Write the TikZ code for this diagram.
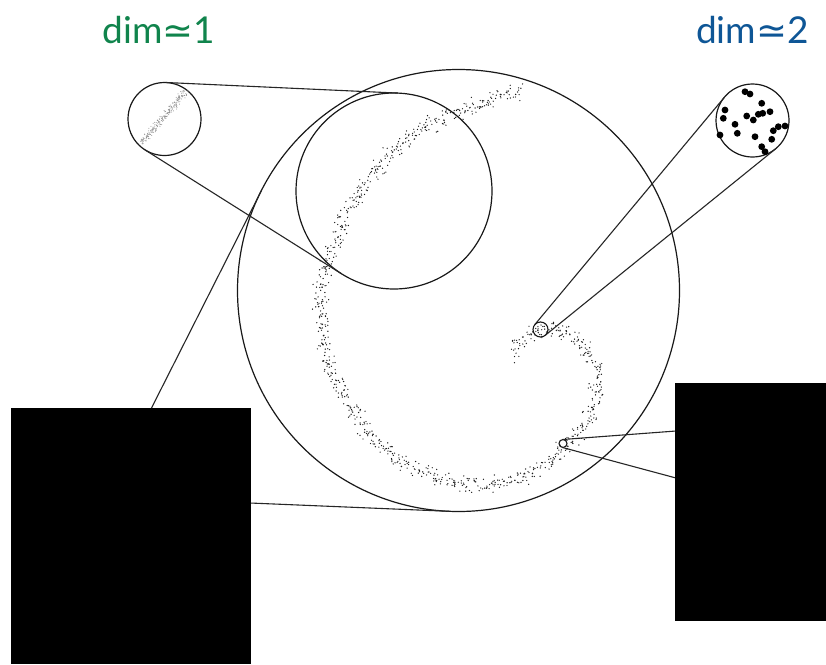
\documentclass[tikz,border=0pt]{standalone}
\usepackage{fontspec}
\setmainfont{Lato}
\newfontfamily\symfont{DejaVu Sans}
\definecolor{dimgreen}{RGB}{16,132,76}
\definecolor{dimblue}{RGB}{14,86,150}
\begin{document}
\begin{tikzpicture}[x=1pt,y=-1pt,
  ring/.style={circle,draw=black!90,line width=1.2pt,inner sep=0pt,outer sep=0pt},
  link/.style={draw=black!85,line width=1.1pt},
  hidden/.style={fill=black,draw=none},
  dimlabel/.style={anchor=base,inner sep=0pt,font=\fontsize{37}{44}\selectfont},
  bigdot/.style={fill=black},
  smalldot/.style={fill=black!90},
  faintdot/.style={fill=black!45}]
\fill[white] (0,0) rectangle (826,664);
\useasboundingbox (0,0) rectangle (826,664);

% circles
\node[ring,minimum size=73pt] (A) at (164.5,119) {};
\node[ring,minimum size=196pt] (M) at (394,191) {};
\node[ring,minimum size=442pt] (B) at (458.5,290.5) {};
\node[ring,minimum size=73pt] (C) at (752.5,120.5) {};
\node[ring,minimum size=15pt,line width=1.1pt] (T) at (540.5,329.5) {};
\node[ring,minimum size=8pt,line width=1.1pt] (S) at (563,443.5) {};

% tangent points
\coordinate (a1) at (166.2,82.5);  \coordinate (m1) at (398.4,93.1);
\coordinate (a2) at (145.0,149.9); \coordinate (m2) at (341.7,273.9);
\coordinate (c1) at (775.5,148.9); \coordinate (t1) at (545.2,335.3);
\coordinate (c2) at (724.5,97.1);  \coordinate (t2) at (534.7,324.7);
\coordinate (s1) at (562.6,439.5); \coordinate (r1) at (676,431);
\coordinate (s2) at (561.8,447.3); \coordinate (r2) at (676,478);
\coordinate (l1) at (151,409);     \coordinate (b1) at (261.4,190.6);
\coordinate (l2) at (250,503);     \coordinate (b2) at (449.2,511.3);

\draw[link] (a1) -- (m1);
\draw[link] (a2) -- (m2);
\draw[link] (c1) -- (t1);
\draw[link] (c2) -- (t2);
\draw[link] (s1) -- (r1);
\draw[link] (s2) -- (r2);
\draw[link] (l1) -- (b1);
\draw[link] (l2) -- (b2);

% point cloud along spiral
\pgfmathsetseed{7}
\foreach \xa/\ya/\xb/\yb in {513/355/522/338, 522/338/540/329, 540/329/567/332, 567/332/585/348, 585/348/597/373, 597/373/597/400, 597/400/587/423, 587/423/565/447, 565/447/540/468, 540/468/517/480, 517/480/483/486, 483/486/450/481, 450/481/425/473, 425/473/400/462, 400/462/373/440, 373/440/350/405, 350/405/333/377, 333/377/323/340, 323/340/320/300, 320/300/323/275, 323/275/332/245, 332/245/347/213, 347/213/367/182, 367/182/392/153, 392/153/423/128, 423/128/457/112, 457/112/490/100, 490/100/520/90}{
  \pgfmathsetmacro\seglen{veclen(\xb-\xa,\yb-\ya)}
  \pgfmathtruncatemacro\nn{max(1,\seglen/0.9)}
  \foreach \k in {1,...,\nn}{
    \fill[smalldot] ({\xa+(\xb-\xa)*\k/\nn+(rand+rand)*5},{\ya+(\yb-\ya)*\k/\nn+(rand+rand)*5}) circle (0.68pt);
  }
}

% magnified 1-d band
\foreach \k in {1,...,220}{
  \fill[faintdot] ({141+45*\k/220+(rand+rand)*2},{143-52*\k/220+(rand+rand)*2}) circle (0.5pt);
}

% magnified 2-d cloud
\foreach \p in {(745,91.7),(750,94),(761.7,103.3),(725,110),(723.3,118.3),(746.7,116),(753.3,120),(758.3,114.3),(762.7,113.3),(770,111.7),(735,124.3),(737.3,133.3),(755,136.7),(773.3,130.7),(778.3,126.7),(785,126),(771.7,139.3),(720,135),(761.7,146.7),(765,151.7)}
  \fill[bigdot] \p circle (3.4pt);

% hidden panels
\fill[hidden] (11,408) rectangle (251,664);
\fill[hidden] (675,383) rectangle (826,621);

% labels
\node[dimlabel,text=dimgreen] (L1) at (159,43) {dim{\symfont ≃}1};
\node[dimlabel,text=dimblue] (L2) at (752.5,43) {dim{\symfont ≃}2};
\end{tikzpicture}
\end{document}
